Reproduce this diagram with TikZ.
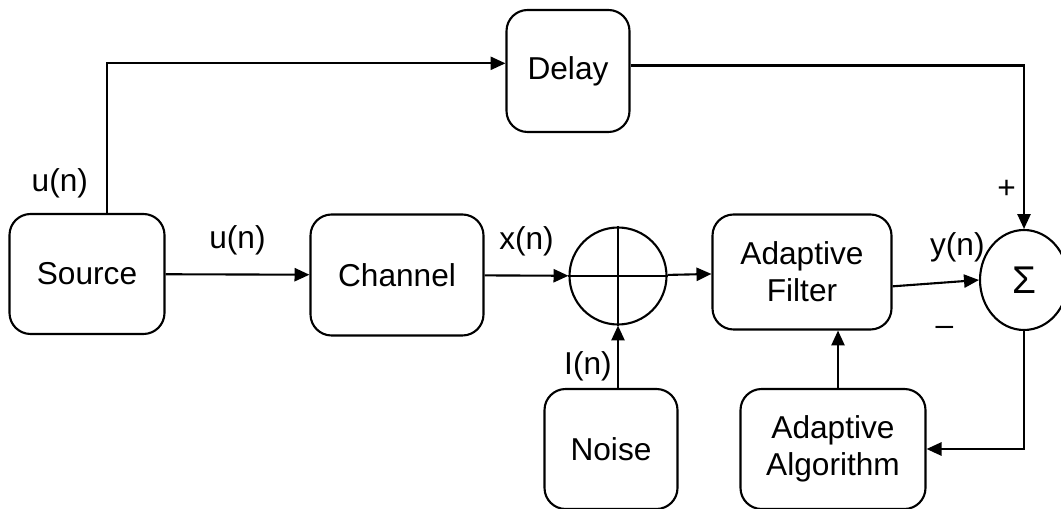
\documentclass[tikz,border=0pt]{standalone}
\usepackage{fontspec}
\setmainfont{Liberation Sans}
\usetikzlibrary{arrows.meta,calc,positioning,shapes.geometric}
\tikzset{
  block/.style={
    rounded corners=12pt,
    draw=black,
    line width=1.2pt,
    align=center,
    inner sep=0pt,
    font=\fontsize{18}{21}\selectfont
  },
  adder/.style={
    circle,
    draw=black,
    line width=1.2pt,
    minimum size=1.94cm,
    inner sep=0pt
  },
  summer/.style={
    ellipse,
    draw=black,
    line width=1.2pt,
    minimum width=1.76cm,
    minimum height=2cm,
    inner sep=0pt,
    font=\fontsize{22}{26}\selectfont
  },
  sig/.style={
    inner sep=0pt,
    font=\fontsize{18}{21}\selectfont
  },
  arrow/.style={
    -{Triangle[length=8.5pt,width=7.5pt]},
    line width=1.2pt
  }
}
\begin{document}
\begin{tikzpicture}
\useasboundingbox (0,0) rectangle (21.22,10.16);
\node[block,minimum width=3.1cm,minimum height=2.4cm] (src) at (1.74,4.68) {Source};
\node[block,minimum width=3.46cm,minimum height=2.42cm] (chan) at (7.94,4.66) {Channel};
\node[adder] (add) at (12.36,4.64) {};
\draw[line width=1.2pt] (add.north) -- (add.south) (add.west) -- (add.east);
\node[block,minimum width=3.58cm,minimum height=2.3cm] (filt) at (16.04,4.72) {Adaptive\\Filter};
\node[summer] (sum) at (20.48,4.56) {Σ};
\node[block,minimum width=2.46cm,minimum height=2.44cm] (dly) at (11.36,8.74) {Delay};
\node[block,minimum width=2.66cm,minimum height=2.4cm] (noise) at (12.22,1.18) {Noise};
\node[block,minimum width=3.7cm,minimum height=2.4cm] (alg) at (16.66,1.18) {Adaptive\\Algorithm};
\coordinate (tap) at ($(src.north)+(0.4,0)$);
\coordinate (fb) at ($(filt.south)+(0.72,0)$);
% forward path
\draw[arrow] (src) -- node[sig,above=0.36cm] {u(n)} (chan);
\draw[arrow] (chan) -- node[sig,above=0.36cm] {x(n)} (add);
\draw[arrow] (add) -- (filt);
\draw[arrow] (filt.-9) -- node[sig,pos=0.75,above=0.36cm] {y(n)} node[sig,pos=0.6,below=0.86cm] {--} (sum.west);
\draw[arrow] (noise.north -| add.south) -- node[sig,left=3pt,pos=0.35] {I(n)} (add.south);
% reference branch through the delay
\draw[arrow] (tap) |- node[sig,pos=0.1,left=0.36cm] {u(n)} (dly.173);
\draw[arrow] (dly.5) -| node[sig,pos=0.88,left=4pt] {+} (sum.north);
% error feedback
\draw[arrow] (sum.south) |- (alg.east);
\draw[arrow] (alg.north -| fb) -- (fb);
\end{tikzpicture}
\end{document}
